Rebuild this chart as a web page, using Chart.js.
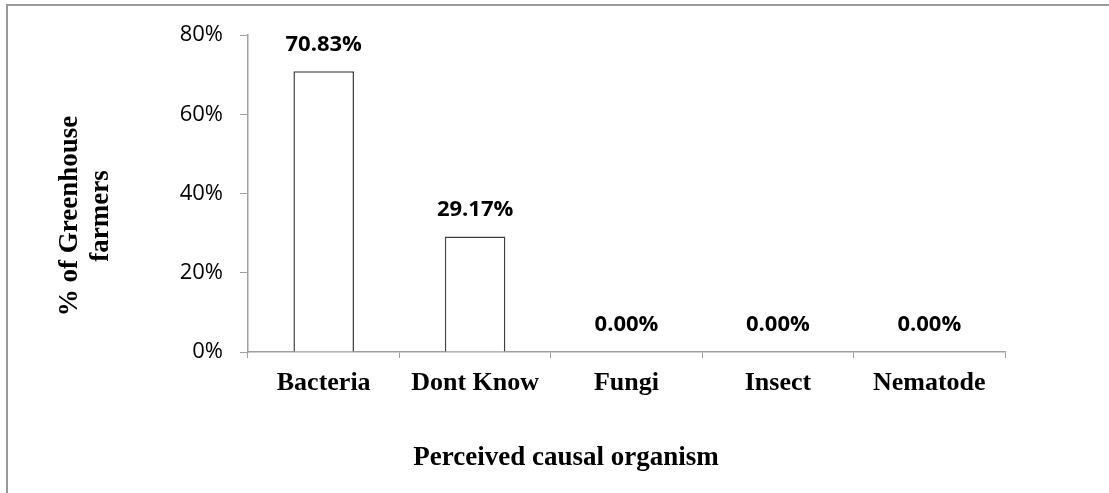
<!DOCTYPE html>
<html>
<head>
<meta charset="utf-8">
<title>Perceived causal organism</title>
<script src="https://cdn.jsdelivr.net/npm/chart.js@4/dist/chart.umd.min.js"></script>
<style>
  html, body { margin: 0; padding: 0; background: #fff; }
  #chart-box { width: 1109px; height: 493px; }
</style>
</head>
<body>
<div id="chart-box"><canvas id="organism-chart" width="1109" height="493"></canvas></div>
<script>
// Chart data
const categories = ['Bacteria', 'Dont Know', 'Fungi', 'Insect', 'Nematode'];
const farmerShare = [70.83, 29.17, 0, 0, 0];
const yTicks = [0, 20, 40, 60, 80];

const yTitleLines = ['% of Greenhouse', 'farmers'];
const xTitle = 'Perceived causal organism';

const SERIF_BOLD = 'bold 27px "Liberation Serif", "Times New Roman", serif';

/**
 * Outer frame, axis titles and value labels
 */
const decorPlugin = {
  id: 'decor',
  beforeDraw(chart) {
    const ctx = chart.ctx;
    ctx.save();
    ctx.strokeStyle = '#9a9a9a';
    ctx.lineWidth = 2;
    ctx.beginPath();
    ctx.moveTo(7, chart.height);
    ctx.lineTo(7, 5);
    ctx.lineTo(chart.width, 5);
    ctx.stroke();
    ctx.restore();
  },
  afterDatasetsDraw(chart) {
    const ctx = chart.ctx;
    const meta = chart.getDatasetMeta(0);
    ctx.save();
    ctx.fillStyle = '#000';
    ctx.font = 'bold 22px "Open Sans", sans-serif';
    ctx.textAlign = 'center';
    ctx.textBaseline = 'middle';
    meta.data.forEach((bar, i) => {
      ctx.fillText(farmerShare[i].toFixed(2) + '%', bar.x, bar.y - 27);
    });

    // y axis title, two rotated lines
    ctx.font = SERIF_BOLD;
    ctx.textBaseline = 'alphabetic';
    const baselines = [77, 108];
    yTitleLines.forEach((line, i) => {
      ctx.save();
      ctx.translate(baselines[i], 216);
      ctx.rotate(-Math.PI / 2);
      ctx.fillText(line, 0, 0);
      ctx.restore();
    });

    // x axis title
    ctx.fillText(xTitle, 566, 465);
    ctx.restore();
  }
};

const chart = new Chart(document.getElementById('organism-chart'), {
  type: 'bar',
  data: {
    labels: categories,
    datasets: [{
      data: farmerShare,
      backgroundColor: '#ffffff',
      borderColor: '#404040',
      borderWidth: 1.5,
      categoryPercentage: 1,
      barPercentage: 0.4
    }]
  },
  options: {
    responsive: false,
    animation: false,
    layout: { padding: { top: 35, right: 104, left: 0, bottom: 0 } },
    plugins: {
      legend: { display: false },
      tooltip: { enabled: false }
    },
    scales: {
      x: {
        afterFit(scale) { scale.height = 141; },
        grid: { drawOnChartArea: false, color: '#a0a0a0', tickLength: 6, offset: true },
        border: { color: '#a0a0a0', width: 1.5 },
        ticks: {
          color: '#000',
          padding: 10,
          font: { family: '"Liberation Serif", "Times New Roman", serif', size: 26, weight: 'bold' }
        }
      },
      y: {
        min: yTicks[0],
        max: yTicks[yTicks.length - 1],
        afterFit(scale) { scale.width = 248; },
        afterBuildTicks(scale) { scale.ticks = yTicks.map(v => ({ value: v })); },
        grid: { drawOnChartArea: false, color: '#a0a0a0', tickLength: 8 },
        border: { color: '#a0a0a0', width: 1.5 },
        ticks: {
          color: '#000',
          padding: 17,
          font: { family: '"Open Sans", sans-serif', size: 22 },
          callback: v => v + '%'
        }
      }
    }
  },
  plugins: [decorPlugin]
});
</script>
</body>
</html>
